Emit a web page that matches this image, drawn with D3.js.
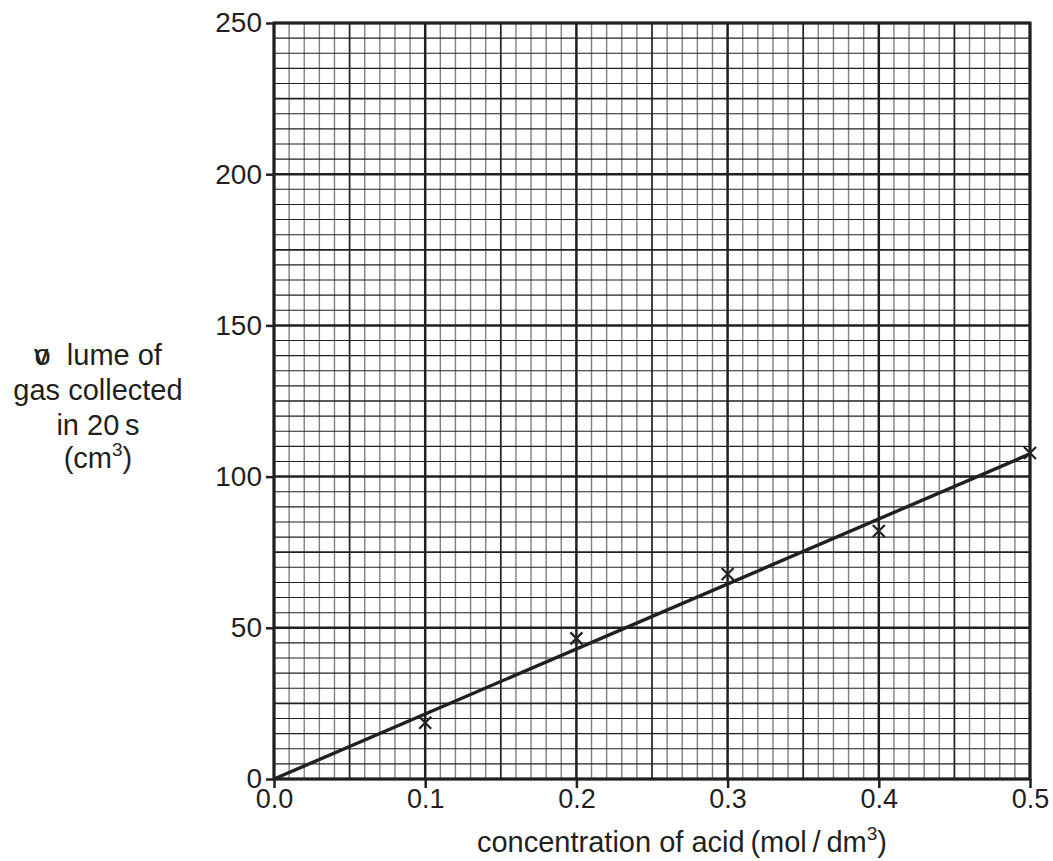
<!DOCTYPE html>
<html>
<head>
<meta charset="utf-8">
<script src="https://cdn.jsdelivr.net/npm/d3@7"></script>
<style>
  body { margin: 0; background: #fff; }
  svg { display: block; font-family: "Liberation Sans", Arial, sans-serif; }
</style>
</head>
<body>
<div class="main"></div>
<script>
// dados
var concentration = [0.1, 0.2, 0.3, 0.4, 0.5];
var volume        = [18.6, 46.5, 67.8, 82, 107.8];
var fitX          = [0, 0.5];
var fitY          = [0, 107.5];
var xTicks        = [0, 0.1, 0.2, 0.3, 0.4, 0.5];
var yTicks        = [0, 50, 100, 150, 200, 250];

var width = 1053, height = 861,
    pLeft = 274, pRight = 1030, pTop = 23, pBottom = 779,
    ink = '#231f20';

var svg = d3.select('.main').append('svg')
    .attr('width', width)
    .attr('height', height);

var x = d3.scaleLinear().domain([0, 0.5]).range([pLeft, pRight]);
var y = d3.scaleLinear().domain([0, 250]).range([pBottom, pTop]);

// grade milimetrada
var grid = svg.append('g');
d3.range(0, 51).forEach(function(i) {
    var v = i / 100, major = i % 10 == 0, mid = i % 5 == 0;
    grid.append('line')
        .attr('x1', x(v)).attr('x2', x(v))
        .attr('y1', pTop).attr('y2', pBottom)
        .attr('stroke', major || mid ? ink : '#808080')
        .attr('stroke-width', major ? 2.5 : (mid ? 1.7 : 1.4));
});
d3.range(0, 51).forEach(function(i) {
    var v = i * 5, major = i % 10 == 0, mid = i % 5 == 0;
    grid.append('line')
        .attr('x1', pLeft).attr('x2', pRight)
        .attr('y1', y(v)).attr('y2', y(v))
        .attr('stroke', ink)
        .attr('stroke-width', major ? 2.5 : (mid ? 1.7 : 1.1));
});

// bordas
svg.append('rect')
    .attr('x', pLeft).attr('y', pTop)
    .attr('width', pRight - pLeft).attr('height', pBottom - pTop)
    .attr('fill', 'none').attr('stroke', ink).attr('stroke-width', 3);

// eixos
var xAxis = svg.append('g')
    .attr('transform', 'translate(0,' + pBottom + ')')
    .call(d3.axisBottom(x).tickValues(xTicks).tickFormat(d3.format('.1f')).tickSize(9).tickPadding(1));
var yAxis = svg.append('g')
    .attr('transform', 'translate(' + pLeft + ',0)')
    .call(d3.axisLeft(y).tickValues(yTicks).tickFormat(d3.format('d')).tickSize(8).tickPadding(4));

[xAxis, yAxis].forEach(function(a) {
    a.select('.domain').remove();
    a.selectAll('line').attr('stroke', ink).attr('stroke-width', 2.5);
    a.selectAll('text').attr('fill', ink).style('font-size', '27px')
        .style('font-family', '"Liberation Sans", Arial, sans-serif');
});
yAxis.selectAll('text').style('font-size', '28px');

// linha de tendencia
svg.append('path')
    .datum(d3.zip(fitX, fitY))
    .attr('d', d3.line().x(d => x(d[0])).y(d => y(d[1])))
    .attr('fill', 'none')
    .attr('stroke', ink)
    .attr('stroke-width', 3.4);

// pontos (cruzes)
var s = 6;
svg.append('g').selectAll('path')
    .data(d3.zip(concentration, volume))
    .enter().append('path')
    .attr('d', function(d) {
        var cx = x(d[0]), cy = y(d[1]);
        return 'M' + (cx - s) + ',' + (cy - s) + 'L' + (cx + s) + ',' + (cy + s) +
               'M' + (cx - s) + ',' + (cy + s) + 'L' + (cx + s) + ',' + (cy - s);
    })
    .attr('stroke', ink)
    .attr('stroke-width', 2.2);

// titulo do eixo y
var fs = '29px';
var l1 = svg.append('text').attr('x', 98).attr('y', 365).attr('text-anchor', 'middle')
    .attr('fill', ink).style('font-size', fs);
l1.append('tspan').text('v');
l1.append('tspan').attr('dx', -14).text('o');
l1.append('tspan').text('\u00a0 lume of');
[{txt: 'gas collected', yy: 400}, {txt: 'in 20\u2009s', yy: 435}].forEach(function(l) {
    svg.append('text').attr('x', 98).attr('y', l.yy).attr('text-anchor', 'middle')
        .attr('fill', ink).style('font-size', fs).text(l.txt);
});
var l4 = svg.append('text').attr('x', 98).attr('y', 468).attr('text-anchor', 'middle')
    .attr('fill', ink).style('font-size', fs);
l4.append('tspan').text('(cm');
l4.append('tspan').attr('dy', -12).style('font-size', '19px').text('3');
l4.append('tspan').attr('dy', 12).text(')');

// titulo do eixo x
var xt = svg.append('text')
    .attr('x', 682).attr('y', 852)
    .attr('text-anchor', 'middle')
    .attr('fill', ink)
    .style('font-size', fs);
xt.append('tspan').text('concentration of acid\u2009(mol\u2009/\u2009dm');
xt.append('tspan').attr('dy', -12).style('font-size', '19px').text('3');
xt.append('tspan').attr('dy', 12).text(')');
</script>
</body>
</html>
